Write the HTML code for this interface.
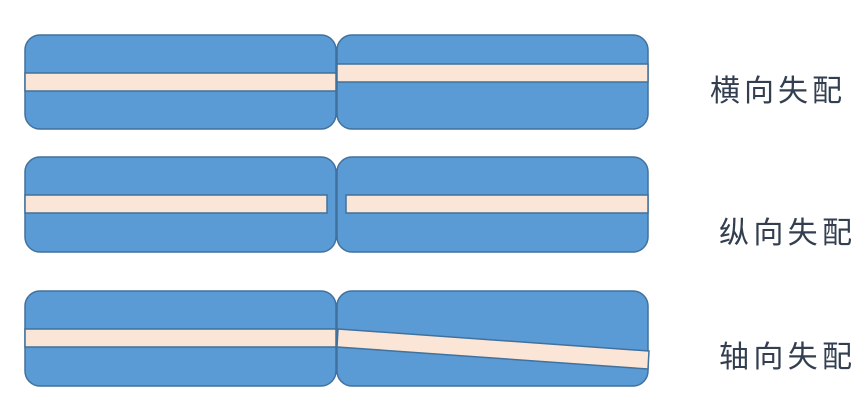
<!DOCTYPE html>
<html><head><meta charset="utf-8"><style>html,body{margin:0;padding:0;background:#fff}svg{display:block}</style></head>
<body>
<svg width="865" height="403" viewBox="0 0 865 403" xmlns="http://www.w3.org/2000/svg">
<g fill="#5B9BD5" stroke="#41719C" stroke-width="1.5">
<rect x="25" y="35" width="311" height="94" rx="15"/>
<rect x="337" y="35" width="311" height="94" rx="15"/>
<rect x="25" y="157" width="311" height="95" rx="15"/>
<rect x="337" y="157" width="311" height="95" rx="15"/>
<rect x="25" y="291" width="311" height="95" rx="15"/>
<rect x="337" y="291" width="311" height="95" rx="15"/>
</g>
<g fill="#FBE5D6" stroke="#41719C" stroke-width="1.5">
<rect x="25" y="73" width="311" height="18"/>
<rect x="337" y="64" width="311" height="18"/>
<rect x="25" y="195" width="302" height="18"/>
<rect x="346" y="195" width="302" height="18"/>
<rect x="25" y="329" width="311" height="18"/>
<polygon points="338,329 649,351 648,369 337,347"/>
</g>
<g font-family="'Liberation Sans','Noto Sans CJK SC',sans-serif" font-size="30" fill="#333F50">
<text x="710" y="101" textLength="132" lengthAdjust="spacing">横向失配</text>
<text x="719" y="243" textLength="133" lengthAdjust="spacing">纵向失配</text>
<text x="719" y="367" textLength="133" lengthAdjust="spacing">轴向失配</text>
</g>
</svg>
</body></html>
